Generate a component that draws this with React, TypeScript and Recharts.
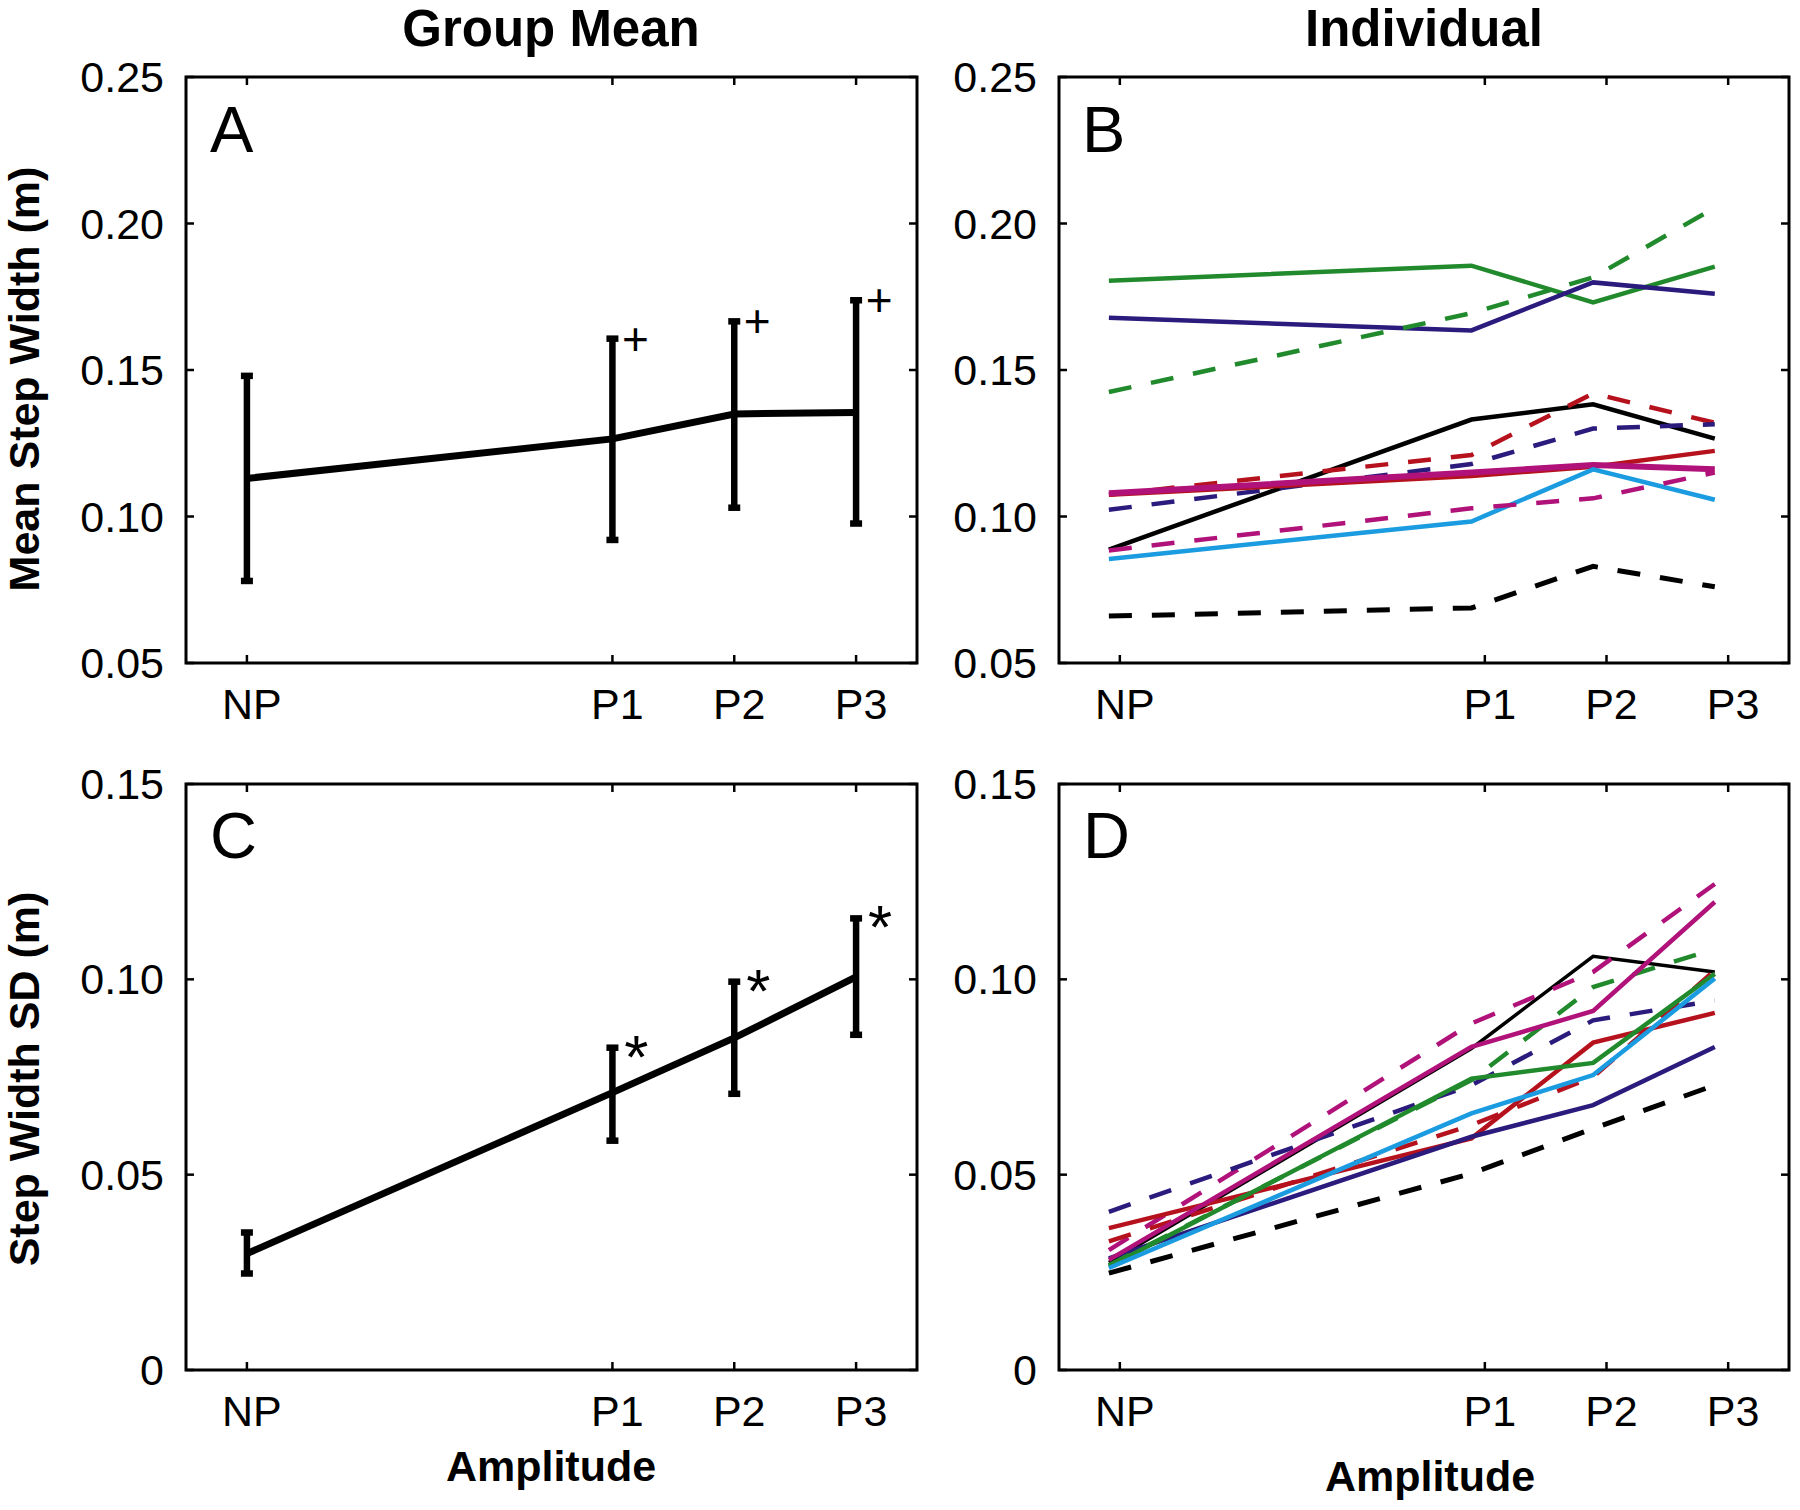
import React from 'react';
import { ComposedChart, Line, XAxis, YAxis, ReferenceArea, ErrorBar, Scatter } from 'recharts';

// amplitude conditions and where they sit on the x axis
const levels = ['NP', 'P1', 'P2', 'P3'];
const levelPos = [0, 3, 4, 5];
// individual traces are drawn slightly left of the ticks in the original
const indivPos = [-0.09, 2.89, 3.89, 4.89];

const widthTicks = [0.05, 0.1, 0.15, 0.2, 0.25];
const widthTickLabels = ['0.05', '0.10', '0.15', '0.20', '0.25'];
const sdTicks = [0, 0.05, 0.1, 0.15];
const sdTickLabels = ['0', '0.05', '0.10', '0.15'];

// Panel A - group mean step width, with error bar ends
const meanWidth = [0.113, 0.1265, 0.135, 0.1355];
const meanWidthLow = [0.078, 0.092, 0.103, 0.0976];
const meanWidthHigh = [0.148, 0.1607, 0.1666, 0.1738];

// Panel C - group step width SD
const meanSd = [0.0298, 0.071, 0.085, 0.1006];
const meanSdLow = [0.0247, 0.0587, 0.0707, 0.0858];
const meanSdHigh = [0.0352, 0.0825, 0.0994, 0.1156];

// Panel B - individual mean step width
const widthBlackSolid = [0.0887, 0.1331, 0.1383, 0.1266];
const widthBlackDash = [0.066, 0.0688, 0.083, 0.076];
const widthNavySolid = [0.1678, 0.1635, 0.1799, 0.176];
const widthNavyDash = [0.1023, 0.1179, 0.13, 0.1315];
const widthGreenSolid = [0.1805, 0.1856, 0.1731, 0.1853];
const widthGreenDash = [0.1425, 0.1694, 0.1816, 0.2054];
const widthRedSolid = [0.1074, 0.1138, 0.117, 0.1224];
const widthRedDash = [0.1074, 0.121, 0.142, 0.132];
const widthMagentaSolid = [0.1079, 0.115, 0.1176, 0.1161];
const widthMagentaDash = [0.0884, 0.1028, 0.1062, 0.115];
const widthCyanSolid = [0.0855, 0.0983, 0.1161, 0.1057];

// Panel D - individual step width SD
const sdBlackSolid = [0.0275, 0.0823, 0.1059, 0.1019];
const sdBlackDash = [0.0248, 0.0503, 0.0618, 0.0729];
const sdNavySolid = [0.0286, 0.0597, 0.0678, 0.0827];
const sdNavyDash = [0.0405, 0.0729, 0.0895, 0.0946];
const sdGreenSolid = [0.0265, 0.0746, 0.0786, 0.1014];
const sdGreenDash = [0.0268, 0.0742, 0.098, 0.1078];
const sdRedSolid = [0.0363, 0.0593, 0.0838, 0.0914];
const sdRedDash = [0.0329, 0.0627, 0.075, 0.1023];
const sdMagentaSolid = [0.0282, 0.0827, 0.0919, 0.1198];
const sdMagentaDash = [0.0307, 0.0887, 0.1019, 0.1244];
const sdCyanSolid = [0.0261, 0.0657, 0.0755, 0.1002];

const FONT = '"Liberation Sans", Arial, Helvetica, sans-serif';

const BLACK = '#000000';
const NAVY = '#2a1b7c';
const GREEN = '#218a2c';
const RED = '#b5121e';
const MAGENTA = '#b0127a';
const CYAN = '#1b9be0';
const DASH = '23 20';

interface Trace {
    key: string;
    color: string;
    dashed: boolean;
    width: number;
}

// drawing order, bottom first
const widthTraces: Trace[] = [
    { key: 'greenSolid', color: GREEN, dashed: false, width: 4.5 },
    { key: 'navySolid', color: NAVY, dashed: false, width: 4.5 },
    { key: 'greenDash', color: GREEN, dashed: true, width: 4.5 },
    { key: 'blackSolid', color: BLACK, dashed: false, width: 4.5 },
    { key: 'redDash', color: RED, dashed: true, width: 4.5 },
    { key: 'navyDash', color: NAVY, dashed: true, width: 4.5 },
    { key: 'redSolid', color: RED, dashed: false, width: 4.5 },
    { key: 'magentaSolid', color: MAGENTA, dashed: false, width: 6 },
    { key: 'cyanSolid', color: CYAN, dashed: false, width: 4.5 },
    { key: 'magentaDash', color: MAGENTA, dashed: true, width: 4.5 },
    { key: 'blackDash', color: BLACK, dashed: true, width: 5 },
];

const sdTraces: Trace[] = [
    { key: 'blackSolid', color: BLACK, dashed: false, width: 3.5 },
    { key: 'magentaDash', color: MAGENTA, dashed: true, width: 4.5 },
    { key: 'navyDash', color: NAVY, dashed: true, width: 4.5 },
    { key: 'redSolid', color: RED, dashed: false, width: 4.5 },
    { key: 'navySolid', color: NAVY, dashed: false, width: 4.5 },
    { key: 'redDash', color: RED, dashed: true, width: 4.5 },
    { key: 'greenDash', color: GREEN, dashed: true, width: 4.5 },
    { key: 'greenSolid', color: GREEN, dashed: false, width: 4.5 },
    { key: 'magentaSolid', color: MAGENTA, dashed: false, width: 4.5 },
    { key: 'cyanSolid', color: CYAN, dashed: false, width: 4.5 },
    { key: 'blackDash', color: BLACK, dashed: true, width: 5 },
];

const widthSeries: Record<string, number[]> = {
    blackSolid: widthBlackSolid, blackDash: widthBlackDash,
    navySolid: widthNavySolid, navyDash: widthNavyDash,
    greenSolid: widthGreenSolid, greenDash: widthGreenDash,
    redSolid: widthRedSolid, redDash: widthRedDash,
    magentaSolid: widthMagentaSolid, magentaDash: widthMagentaDash,
    cyanSolid: widthCyanSolid,
};

const sdSeries: Record<string, number[]> = {
    blackSolid: sdBlackSolid, blackDash: sdBlackDash,
    navySolid: sdNavySolid, navyDash: sdNavyDash,
    greenSolid: sdGreenSolid, greenDash: sdGreenDash,
    redSolid: sdRedSolid, redDash: sdRedDash,
    magentaSolid: sdMagentaSolid, magentaDash: sdMagentaDash,
    cyanSolid: sdCyanSolid,
};

function groupRows(mean: number[], low: number[], high: number[]) {
    return levelPos.map((x, i) => ({ x, mean: mean[i], err: [mean[i] - low[i], high[i] - mean[i]] }));
}

function indivRows(series: Record<string, number[]>) {
    return indivPos.map((x, i) => {
        const row: Record<string, number> = { x };
        Object.keys(series).forEach((k) => { row[k] = series[k][i]; });
        return row;
    });
}

// significance marks sit at the top of the P1..P3 error bars
function markRows(high: number[]) {
    return levelPos.slice(1).map((x, i) => ({ x, y: high[i + 1] }));
}

const CHART_H = 760;
const M_TOP = 77;
const X_AXIS_H = 60;
const M_BOTTOM = 37;
const PLOT_H = CHART_H - M_TOP - X_AXIS_H - M_BOTTOM;
const TICK = 8;

interface PanelProps {
    left: number;
    top: number;
    width: number;
    yAxisWidth: number;
    right: number;
    yDomain: [number, number];
    yTicks: number[];
    yLabels: string[];
    data: Record<string, unknown>[];
    children: React.ReactNode;
}

function Panel({ left, top, width, yAxisWidth, right, yDomain, yTicks, yLabels, data, children }: PanelProps) {
    const plotW = width - yAxisWidth - right;

    const XTick = (p: any) => {
        const { x, y, payload } = p;
        const i = levelPos.findIndex((v) => Math.abs(v - payload.value) < 1e-9);
        return (
            <g>
                <line x1={x} x2={x} y1={y} y2={y - TICK} stroke="#000" strokeWidth={2.5} />
                <line x1={x} x2={x} y1={y - PLOT_H} y2={y - PLOT_H + TICK} stroke="#000" strokeWidth={2.5} />
                <text x={x + 5} y={y + 56} textAnchor="middle" fontSize={43} fontFamily={FONT} fill="#000">
                    {levels[i]}
                </text>
            </g>
        );
    };

    const YTick = (p: any) => {
        const { x, y, payload } = p;
        const i = yTicks.findIndex((v) => Math.abs(v - payload.value) < 1e-9);
        return (
            <g>
                <line x1={x} x2={x + TICK} y1={y} y2={y} stroke="#000" strokeWidth={2.5} />
                <line x1={x + plotW} x2={x + plotW - TICK} y1={y} y2={y} stroke="#000" strokeWidth={2.5} />
                <text x={x - 22} y={y + 15} textAnchor="end" fontSize={43} fontFamily={FONT} fill="#000">
                    {yLabels[i]}
                </text>
            </g>
        );
    };

    return (
        <div style={{ position: 'absolute', left, top }}>
            <ComposedChart
                width={width}
                height={CHART_H}
                data={data}
                margin={{ top: M_TOP, right, bottom: M_BOTTOM, left: 0 }}
            >
                <XAxis
                    type="number"
                    dataKey="x"
                    domain={[-0.5, 5.5]}
                    ticks={levelPos}
                    interval={0}
                    tick={XTick}
                    tickLine={false}
                    axisLine={false}
                    tickSize={0}
                    tickMargin={0}
                    height={X_AXIS_H}
                    allowDataOverflow
                />
                <YAxis
                    type="number"
                    domain={yDomain}
                    ticks={yTicks}
                    interval={0}
                    tick={YTick}
                    tickLine={false}
                    axisLine={false}
                    tickSize={0}
                    tickMargin={0}
                    width={yAxisWidth}
                    allowDataOverflow
                />
                <ReferenceArea
                    x1={-0.5}
                    x2={5.5}
                    y1={yDomain[0]}
                    y2={yDomain[1]}
                    fill="none"
                    fillOpacity={0}
                    stroke="#000"
                    strokeWidth={3}
                    ifOverflow="visible"
                />
                {children}
            </ComposedChart>
        </div>
    );
}

const PlusMark = (p: any) => (
    <text x={p.cx + 23} y={p.cy + 16} textAnchor="middle" fontSize={46} fontFamily={FONT} fill="#000">+</text>
);

const StarMark = (p: any) => (
    <text x={p.cx + 24} y={p.cy + 30} textAnchor="middle" fontSize={62} fontFamily={FONT} fill="#000">*</text>
);

function traceLines(traces: Trace[]) {
    return traces.map((t) => (
        <Line
            key={t.key}
            dataKey={t.key}
            stroke={t.color}
            strokeWidth={t.width}
            strokeDasharray={t.dashed ? DASH : undefined}
            dot={false}
            activeDot={false}
            isAnimationActive={false}
        />
    ));
}

function groupLine() {
    return (
        <Line dataKey="mean" stroke="#000" strokeWidth={7} dot={false} activeDot={false} isAnimationActive={false}>
            <ErrorBar dataKey="err" direction="y" width={6} strokeWidth={6.5} stroke="#000" />
        </Line>
    );
}

export default function App() {
    const bold = { fontFamily: FONT, fontWeight: 700, fill: '#000' };
    return (
        <div style={{ position: 'absolute', left: 0, top: 0, width: 1800, height: 1510, background: '#fff' }}>
            {/* A */}
            <Panel left={0} top={0} width={940} yAxisWidth={186} right={23}
                yDomain={[0.05, 0.25]} yTicks={widthTicks} yLabels={widthTickLabels}
                data={groupRows(meanWidth, meanWidthLow, meanWidthHigh)}>
                {groupLine()}
                <Scatter data={markRows(meanWidthHigh)} dataKey="y" shape={PlusMark} isAnimationActive={false} />
            </Panel>
            {/* B */}
            <Panel left={880} top={0} width={920} yAxisWidth={179} right={11}
                yDomain={[0.05, 0.25]} yTicks={widthTicks} yLabels={widthTickLabels}
                data={indivRows(widthSeries)}>
                {traceLines(widthTraces)}
            </Panel>
            {/* C */}
            <Panel left={0} top={707} width={940} yAxisWidth={186} right={23}
                yDomain={[0, 0.15]} yTicks={sdTicks} yLabels={sdTickLabels}
                data={groupRows(meanSd, meanSdLow, meanSdHigh)}>
                {groupLine()}
                <Scatter data={markRows(meanSdHigh)} dataKey="y" shape={StarMark} isAnimationActive={false} />
            </Panel>
            {/* D */}
            <Panel left={880} top={707} width={920} yAxisWidth={179} right={11}
                yDomain={[0, 0.15]} yTicks={sdTicks} yLabels={sdTickLabels}
                data={indivRows(sdSeries)}>
                {traceLines(sdTraces)}
            </Panel>

            <svg width={1800} height={1510} style={{ position: 'absolute', left: 0, top: 0, pointerEvents: 'none' }}>
                <text x={551} y={46} textAnchor="middle" fontSize={51} {...bold}>Group Mean</text>
                <text x={1424} y={46} textAnchor="middle" fontSize={51} {...bold}>Individual</text>

                <text transform="translate(39,379) rotate(-90)" textAnchor="middle" fontSize={43} {...bold}>
                    Mean Step Width (m)
                </text>
                <text transform="translate(39,1079) rotate(-90)" textAnchor="middle" fontSize={43} {...bold}>
                    Step Width SD (m)
                </text>

                <text x={551} y={1481} textAnchor="middle" fontSize={43} {...bold}>Amplitude</text>
                <text x={1430} y={1491} textAnchor="middle" fontSize={43} {...bold}>Amplitude</text>

                <text x={210} y={152} fontSize={65} fontFamily={FONT} fill="#000">A</text>
                <text x={1082} y={152} fontSize={65} fontFamily={FONT} fill="#000">B</text>
                <text x={210} y={858} fontSize={65} fontFamily={FONT} fill="#000">C</text>
                <text x={1083} y={858} fontSize={65} fontFamily={FONT} fill="#000">D</text>
            </svg>
        </div>
    );
}
